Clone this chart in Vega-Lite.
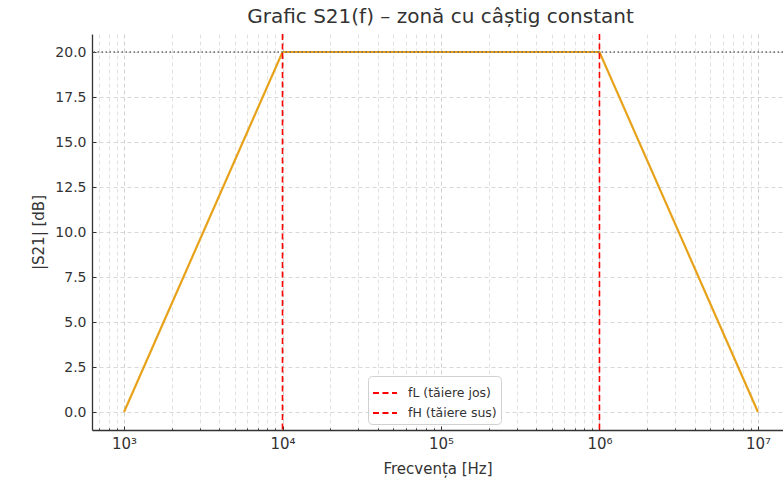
{
  "$schema": "https://vega.github.io/schema/vega-lite/v6.json",
  "autosize": "none",
  "width": 691,
  "height": 396,
  "padding": {"left": 92, "top": 34, "right": 0, "bottom": 48},
  "background": "white",
  "config": {
    "font": "DejaVu Sans",
    "view": {"stroke": null},
    "axis": {
      "labelFont": "DejaVu Sans",
      "titleFont": "DejaVu Sans",
      "labelColor": "#333333",
      "titleColor": "#333333",
      "labelFontSize": 14,
      "titleFontSize": 15,
      "titleFontWeight": "normal",
      "domainColor": "#333333",
      "domainWidth": 1.3,
      "tickColor": "#333333",
      "gridColor": "#d4d4d4",
      "gridDash": [4, 3],
      "gridWidth": 0.9
    }
  },
  "title": {
    "text": "Grafic S21(f) – zonă cu câștig constant",
    "fontSize": 20,
    "font": "DejaVu Sans",
    "fontWeight": "normal",
    "color": "#333333",
    "offset": 6,
    "dx": 3
  },
  "datasets": {
    "curve": [
      {"f": 1000, "s21": 0},
      {"f": 10000, "s21": 20},
      {"f": 1000000, "s21": 20},
      {"f": 10000000, "s21": 0}
    ],
    "cuts": [
      {"f": 10000, "label": "fL (tăiere jos)"},
      {"f": 1000000, "label": "fH (tăiere sus)"}
    ],
    "ref": [{"level": 20}]
  },
  "layer": [
    {
      "data": {"name": "curve"},
      "mark": {"type": "line", "color": "#e8a21a", "strokeWidth": 2.2},
      "encoding": {
        "x": {
          "field": "f",
          "type": "quantitative",
          "scale": {"type": "log", "domain": [628, 14390000], "nice": false},
          "axis": {
            "title": "Frecvența [Hz]",
            "titlePadding": 8,
            "values": [700, 800, 900, 1000, 2000, 3000, 4000, 5000, 6000, 7000, 8000, 9000, 10000, 20000, 30000, 40000, 50000, 60000, 70000, 80000, 90000, 100000, 200000, 300000, 400000, 500000, 600000, 700000, 800000, 900000, 1000000, 2000000, 3000000, 4000000, 5000000, 6000000, 7000000, 8000000, 9000000, 10000000],
            "labelExpr": "datum.value == 1000 ? '10³' : datum.value == 10000 ? '10⁴' : datum.value == 100000 ? '10⁵' : datum.value == 1000000 ? '10⁶' : datum.value == 10000000 ? '10⁷' : ''",
            "labelFontSize": 15,
            "labelPadding": 10,
            "tickSize": {"condition": {"test": "datum.value == 1000 || datum.value == 10000 || datum.value == 100000 || datum.value == 1000000 || datum.value == 10000000", "value": -4}, "value": -2},
            "gridColor": {"condition": {"test": "datum.value == 1000 || datum.value == 10000 || datum.value == 100000 || datum.value == 1000000 || datum.value == 10000000", "value": "#cccccc"}, "value": "#dedede"},
            "labelFlush": false,
            "labelOverlap": false
          }
        },
        "y": {
          "field": "s21",
          "type": "quantitative",
          "scale": {"domain": [-1, 21], "nice": false, "zero": false},
          "axis": {
            "title": "|S21| [dB]",
            "titlePadding": 8,
            "values": [0, 2.5, 5, 7.5, 10, 12.5, 15, 17.5, 20],
            "format": ".1f",
            "tickSize": -4,
            "labelPadding": 10
          }
        }
      }
    },
    {
      "data": {"name": "ref"},
      "mark": {"type": "rule", "color": "#666666", "strokeDash": [1.5, 2.5], "strokeWidth": 1.3},
      "encoding": {"y": {"field": "level", "type": "quantitative"}}
    },
    {
      "data": {"name": "cuts"},
      "mark": {"type": "rule", "strokeWidth": 1.6},
      "encoding": {
        "x": {"field": "f", "type": "quantitative"},
        "strokeDash": {
          "field": "label",
          "type": "nominal",
          "scale": {"domain": ["fL (tăiere jos)", "fH (tăiere sus)"], "range": [[6, 3.5], [6, 3.5]]},
          "legend": null
        },
        "color": {
          "field": "label",
          "type": "nominal",
          "scale": {"domain": ["fL (tăiere jos)", "fH (tăiere sus)"], "range": ["#ff0000", "#ff0000"]},
          "legend": {
            "title": null,
            "orient": "none",
            "legendX": 276,
            "legendY": 342,
            "symbolType": "stroke",
            "symbolDash": [6, 3.5],
            "symbolStrokeWidth": 1.8,
            "symbolSize": 576,
            "labelFontSize": 12.5,
            "labelFont": "DejaVu Sans",
            "labelColor": "#333333",
            "labelOffset": 10,
            "fillColor": "white",
            "strokeColor": "#d0d0d0",
            "cornerRadius": 4,
            "padding": 4,
            "rowPadding": -2
          }
        }
      }
    }
  ]
}
